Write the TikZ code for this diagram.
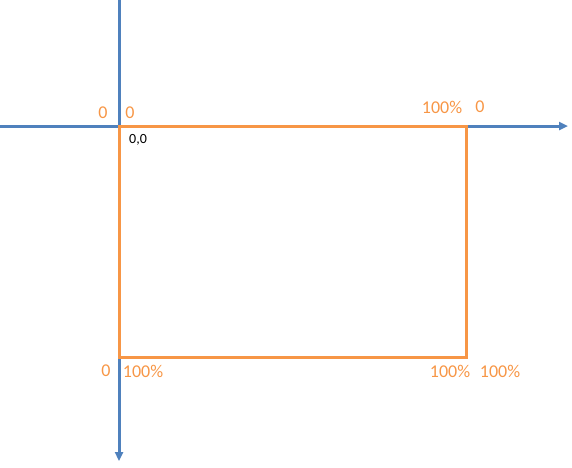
\documentclass[tikz,border=0pt]{standalone}
\usepackage{fontspec}
\setmainfont{Carlito}
\usetikzlibrary{arrows.meta}
\definecolor{axisblue}{RGB}{79,129,189}
\definecolor{boxorange}{RGB}{247,150,70}
\begin{document}
\begin{tikzpicture}[
		x=1pt, y=-1pt,
		axis/.style={draw=axisblue, line width=3pt, -{Triangle[length=9pt,width=8pt]}},
		frame/.style={draw=boxorange, line width=3pt},
		tick/.style={text=boxorange, font=\fontsize{18}{20}\selectfont, inner sep=0pt},
		origin/.style={text=black, font=\fontsize{14}{16}\selectfont, inner sep=0pt},
		]
		\useasboundingbox (0,0) rectangle (572,467);
		% axes
		\coordinate (xstart) at (0,126);
		\coordinate (xend) at (568,126);
		\coordinate (ystart) at (119,0);
		\coordinate (yend) at (119,461);
		\draw[axis] (xstart) -- (xend);
		\draw[axis] (ystart) -- (yend);
		% box
		\coordinate (topleft) at (119.5,126);
		\coordinate (bottomright) at (466,357);
		\draw[frame] (topleft) rectangle (bottomright);
		% labels
		\node[tick] (ytop) at (103,113) {0};
		\node[tick] (xleft) at (130,113) {0};
		\node[tick] (xright) at (442,107) {100\%};
		\node[tick] (ytopright) at (480,107) {0};
		\node[origin] (zero) at (138,140) {0,0};
		\node[tick] (ybottom) at (106,371) {0};
		\node[tick] (xbottomleft) at (143,371) {100\%};
		\node[tick] (xbottomright) at (450,371) {100\%};
		\node[tick] (ybottomright) at (500,371) {100\%};
	\end{tikzpicture}
\end{document}
